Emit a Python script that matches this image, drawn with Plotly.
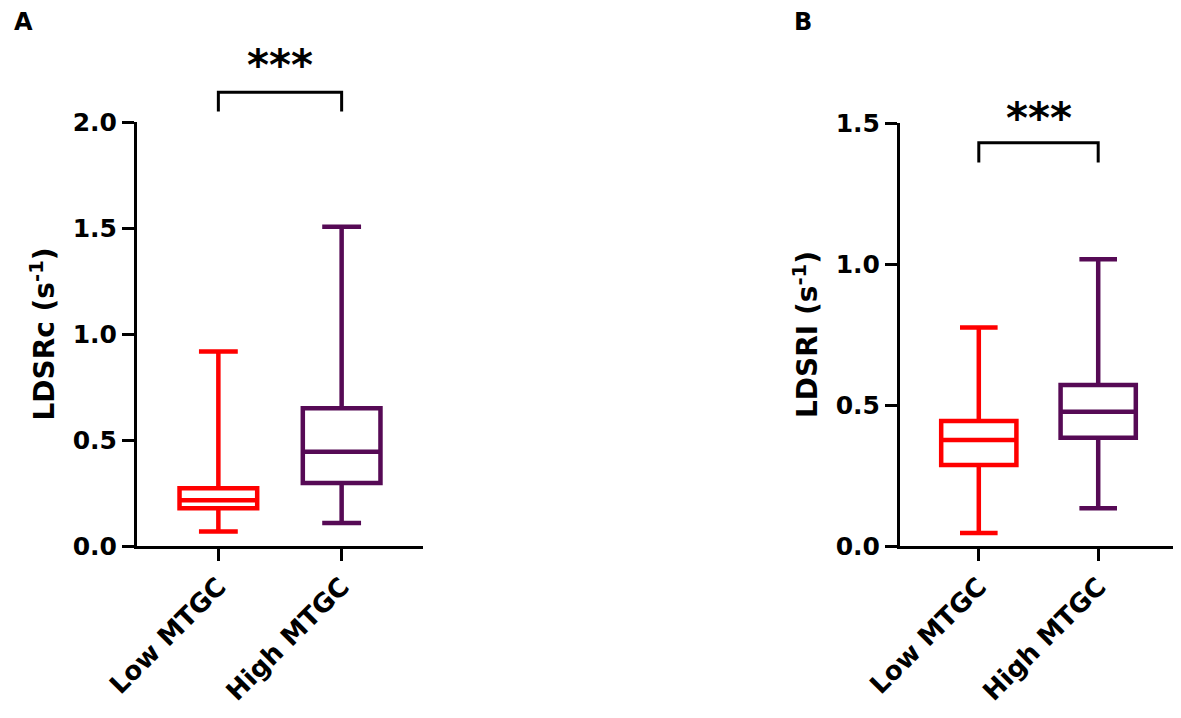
import plotly.graph_objects as go

categories = ["Low MTGC", "High MTGC"]
colors = ["#FF0000", "#560A55"]

# Panel A: LDSRc (s^-1)
a_lower = [0.068, 0.108]
a_q1 = [0.178, 0.297]
a_median = [0.216, 0.445]
a_q3 = [0.272, 0.650]
a_upper = [0.917, 1.506]

# Panel B: LDSRl (s^-1)
b_lower = [0.046, 0.134]
b_q1 = [0.287, 0.384]
b_median = [0.376, 0.476]
b_q3 = [0.443, 0.571]
b_upper = [0.775, 1.017]

a_ticks = [0.0, 0.5, 1.0, 1.5, 2.0]
b_ticks = [0.0, 0.5, 1.0, 1.5]
a_max, b_max = 2.0, 1.5
sig_label = "***"
a_bracket = (2.14, 2.05, 2.39)  # top, leg end, star label position
b_bracket = (1.43, 1.36, 1.61)

W, H = 1181, 718
OFF = 8  # page body margin
FONT = "DejaVu Sans, Liberation Sans, Arial, sans-serif"
XR = [-0.66, 1.66]

fig = go.Figure()

def add_panel(xa, ya, lower, q1, med, q3, upper):
    for i, cat in enumerate(categories):
        fig.add_trace(go.Box(
            x=[cat], q1=[q1[i]], median=[med[i]], q3=[q3[i]],
            lowerfence=[lower[i]], upperfence=[upper[i]],
            xaxis=xa, yaxis=ya,
            line=dict(color=colors[i], width=4.5),
            fillcolor="rgba(255,255,255,0)",
            width=0.63, whiskerwidth=0.5, boxpoints=False,
            showlegend=False, hoverinfo="skip",
        ))

add_panel("x", "y", a_lower, a_q1, a_median, a_q3, a_upper)
add_panel("x2", "y2", b_lower, b_q1, b_median, b_q3, b_upper)

def px_x(p):
    return (p - OFF) / W

def px_y(p):
    return 1 - (p - OFF) / H

axis_common = dict(
    showline=True, linecolor="black", linewidth=3,
    ticks="outside", ticklen=12, tickwidth=3, tickcolor="black",
    showgrid=False, zeroline=False, automargin=False,
)
ytick_font = dict(family=FONT, size=25, color="black", weight="bold")
xtick_font = dict(family=FONT, size=26, color="black", weight="bold")
title_font = dict(family=FONT, size=28, color="black", weight="bold")

fig.update_layout(
    width=W, height=H,
    margin=dict(l=0, r=0, t=0, b=0),
    paper_bgcolor="white", plot_bgcolor="white",
    xaxis=dict(domain=[px_x(137), px_x(423)], range=XR, tickangle=-45, tickfont=xtick_font,
               categoryorder="array", categoryarray=categories, **axis_common),
    yaxis=dict(domain=[px_y(546), px_y(122)], range=[0, a_max], tickfont=ytick_font,
               tickvals=a_ticks, ticktext=[f"{v:.1f}" for v in a_ticks],
               title=dict(text="LDSRc (s<sup>-1</sup>)", standoff=10, font=title_font),
               **axis_common),
    xaxis2=dict(domain=[px_x(900), px_x(1177)], range=XR, tickangle=-45, anchor="y2",
                tickfont=xtick_font,
                categoryorder="array", categoryarray=categories, **axis_common),
    yaxis2=dict(domain=[px_y(546), px_y(123)], range=[0, b_max], anchor="x2", tickfont=ytick_font,
                tickvals=b_ticks, ticktext=[f"{v:.1f}" for v in b_ticks],
                title=dict(text="LDSRI (s<sup>-1</sup>)", standoff=10, font=title_font),
                **axis_common),
)

def xdom(i):
    return (i - XR[0]) / (XR[1] - XR[0])

def add_bracket(xa, ya, ymax, br):
    top, leg, star = br
    xs = [xdom(0), xdom(0), xdom(1), xdom(1)]
    ys = [leg / ymax, top / ymax, top / ymax, leg / ymax]
    path = "M {} {} L {} {} L {} {} L {} {}".format(
        xs[0], ys[0], xs[1], ys[1], xs[2], ys[2], xs[3], ys[3])
    fig.add_shape(type="path", path=path, xref=f"{xa} domain", yref=f"{ya} domain",
                  line=dict(color="black", width=3))
    fig.add_annotation(text=f"<b>{sig_label}</b>", x=(xdom(0) + xdom(1)) / 2, y=star / ymax,
                       xref=f"{xa} domain", yref=f"{ya} domain", showarrow=False,
                       font=dict(family=FONT, size=42, color="black"))

add_bracket("x", "y", a_max, a_bracket)
add_bracket("x2", "y2", b_max, b_bracket)

for letter, xp in [("A", 12), ("B", 792)]:
    fig.add_annotation(text=f"<b>{letter}</b>", x=px_x(xp), y=px_y(6), xref="paper", yref="paper",
                       xanchor="left", yanchor="top", showarrow=False,
                       font=dict(family=FONT, size=24, color="black"))

fig.write_html("out.html")
